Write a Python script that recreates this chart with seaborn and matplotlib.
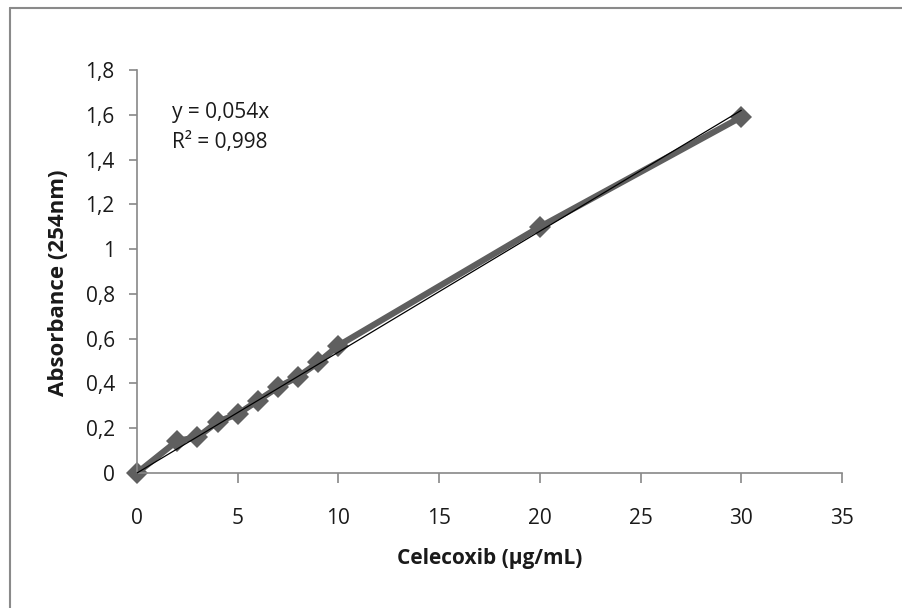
import matplotlib
matplotlib.use("Agg")
import matplotlib.pyplot as plt
import seaborn as sns
import pandas as pd
import numpy as np
from matplotlib.ticker import FuncFormatter, MultipleLocator
from matplotlib.lines import Line2D

# Data
concentration = [0, 2, 3, 4, 5, 6, 7, 8, 9, 10, 20, 30]
absorbance = [0.0, 0.144, 0.159, 0.229, 0.263, 0.323, 0.383, 0.430, 0.494, 0.569, 1.099, 1.590]
slope = 0.054
equation_text = "y = 0,054x"
r2_text = "R² = 0,998"
x_label = "Celecoxib (µg/mL)"
y_label = "Absorbance (254nm)"

df = pd.DataFrame({"x": concentration, "y": absorbance})

sns.set_theme(style="white")
plt.rcParams['font.family'] = ['Open Sans', 'DejaVu Sans']

fig = plt.figure(figsize=(9.03, 6.08), dpi=100)
ax = fig.add_axes([137/903, 1 - 473/608, (842-137)/903, (473-70)/608])

sns.lineplot(data=df, x="x", y="y", ax=ax, color="#5f5f5f", linewidth=4.5,
             marker="D", markersize=11.5, markeredgewidth=0, markerfacecolor="#5f5f5f",
             zorder=2, clip_on=False)

# trendline y = slope * x
trend_x = np.array([0, max(concentration)])
ax.plot(trend_x, slope * trend_x, color="black", linewidth=0.9, zorder=3, clip_on=False)

ax.set_xlim(0, 35)
ax.set_ylim(0, 1.8)
ax.xaxis.set_major_locator(MultipleLocator(5))
ax.yaxis.set_major_locator(MultipleLocator(0.2))

def comma_fmt(v, pos):
    s = f"{v:.1f}".rstrip("0").rstrip(".")
    return s.replace(".", ",")

ax.yaxis.set_major_formatter(FuncFormatter(comma_fmt))
ax.xaxis.set_major_formatter(FuncFormatter(lambda v, p: f"{int(round(v))}"))

for side in ["top", "right"]:
    ax.spines[side].set_visible(False)
for side in ["left", "bottom"]:
    ax.spines[side].set_color("#888888")
    ax.spines[side].set_linewidth(1.2)

ax.tick_params(axis="y", direction="out", length=6, width=1.2, color="#888888",
               labelsize=15, labelcolor="#1a1a1a", pad=10, left=True)
ax.tick_params(axis="x", direction="out", length=7, width=1.2, color="#888888",
               labelsize=15, labelcolor="#1a1a1a", pad=18, bottom=True)

ax.set_xlabel(x_label, fontsize=15, fontweight="bold", color="#1a1a1a", labelpad=14)
ax.set_ylabel(y_label, fontsize=16, fontweight="bold", color="#1a1a1a")
ax.yaxis.set_label_coords(-0.097, 0.471)
ax.patch.set_alpha(0)

ax.text(1.75, 1.608, equation_text, fontsize=15, color="#1a1a1a", va="center", ha="left")
ax.text(1.75, 1.478, r2_text, fontsize=15, color="#1a1a1a", va="center", ha="left")

# outer chart border (left and top visible)
fig.add_artist(Line2D([10/903, 10/903], [0, 1 - 8/608], transform=fig.transFigure,
                      color="#8a8a8a", linewidth=1.5))
fig.add_artist(Line2D([10/903, 1], [1 - 8/608, 1 - 8/608], transform=fig.transFigure,
                      color="#8a8a8a", linewidth=1.5))

fig.savefig("out.png", dpi=100)
